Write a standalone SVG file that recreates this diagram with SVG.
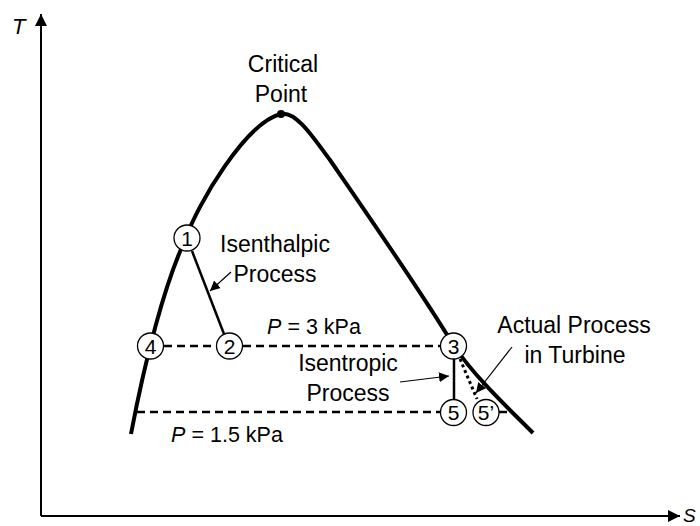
<svg xmlns="http://www.w3.org/2000/svg" width="700" height="526" viewBox="0 0 700 526">
<defs>
<marker id="ah" viewBox="0 0 10 10" refX="10" refY="5" markerWidth="10" markerHeight="10" markerUnits="userSpaceOnUse" orient="auto"><path d="M0,0 L10,5 L0,10 z" fill="#000"/></marker>
<marker id="axh" viewBox="0 0 10 10" refX="10" refY="5" markerWidth="14" markerHeight="12" markerUnits="userSpaceOnUse" orient="auto"><path d="M0,0 L10,5 L0,10 z" fill="#000"/></marker>
<style>
text{font-family:"Liberation Sans",Arial,sans-serif;fill:#000}
.lbl{font-size:23px;text-anchor:middle}
.plbl{font-size:21.5px;text-anchor:middle}
.num{font-size:21px;text-anchor:middle}
.st circle{fill:#fff;stroke:#000;stroke-width:1.3}
.dash{stroke:#000;stroke-width:2.5;stroke-dasharray:8,5;fill:none}
.thin{stroke:#000;stroke-width:1.2;fill:none}
</style>
</defs>
<rect width="700" height="526" fill="#fff"/>
<g id="axes">
<line x1="41" y1="516" x2="41" y2="14" stroke="#000" stroke-width="2" marker-end="url(#axh)"/>
<line x1="41" y1="516" x2="680" y2="516" stroke="#000" stroke-width="2" marker-end="url(#axh)"/>
<text x="12" y="34" font-size="22" font-style="italic">T</text>
<text x="683" y="522" font-size="19" font-style="italic">S</text>
</g>
<g id="dome">
<path d="M131,434 C145,360 165,282 186,238 C197,205 246,122 281,114 C296,110 315,140 330,160 C370,218 420,290 454,346 C475,377 505,405 533,433" fill="none" stroke="#000" stroke-width="4"/>
<circle cx="281" cy="114" r="4" fill="#000"/>
</g>
<g id="connectors">
<line x1="164" y1="346" x2="216" y2="346" class="dash"/>
<line x1="243" y1="346" x2="440" y2="346" class="dash"/>
<line x1="137" y1="412" x2="440" y2="412" class="dash"/>
<line x1="499" y1="412" x2="510" y2="412" class="dash"/>
<line x1="192" y1="251" x2="224" y2="334" stroke="#000" stroke-width="2.5"/>
<line x1="454" y1="359" x2="454" y2="399" stroke="#000" stroke-width="2.5"/>
<line x1="460" y1="359" x2="477" y2="399" stroke="#000" stroke-width="3" stroke-dasharray="3,3"/>
<line x1="231" y1="272" x2="210" y2="291" class="thin" marker-end="url(#ah)"/>
<line x1="400" y1="382" x2="449" y2="376" class="thin" marker-end="url(#ah)"/>
<line x1="512" y1="347" x2="476" y2="393" class="thin" marker-end="url(#ah)"/>
</g>
<g id="n1" class="st"><circle cx="187" cy="238" r="13"/><text x="187" y="245.5" class="num">1</text></g>
<g id="n2" class="st"><circle cx="229.5" cy="346" r="13"/><text x="229.5" y="353.5" class="num">2</text></g>
<g id="n3" class="st"><circle cx="453.5" cy="346" r="13"/><text x="453.5" y="353.5" class="num">3</text></g>
<g id="n4" class="st"><circle cx="150.5" cy="346" r="13"/><text x="150.5" y="353.5" class="num">4</text></g>
<g id="n5" class="st"><circle cx="453.5" cy="412.5" r="13"/><text x="453.5" y="420" class="num">5</text></g>
<g id="n5p" class="st"><circle cx="486" cy="412.5" r="13"/><text x="486" y="420" class="num">5’</text></g>
<g id="labels">
<text x="283" y="72" class="lbl">Critical</text>
<text x="281" y="102" class="lbl">Point</text>
<text x="275" y="252" class="lbl">Isenthalpic</text>
<text x="275" y="282" class="lbl">Process</text>
<text x="314" y="334" class="plbl"><tspan font-style="italic">P</tspan> = 3 kPa</text>
<text x="348" y="371" class="lbl">Isentropic</text>
<text x="348" y="401" class="lbl">Process</text>
<text x="574" y="333" class="lbl">Actual Process</text>
<text x="575" y="363" class="lbl">in Turbine</text>
<text x="227" y="442" class="plbl"><tspan font-style="italic">P</tspan> = 1.5 kPa</text>
</g>
</svg>
